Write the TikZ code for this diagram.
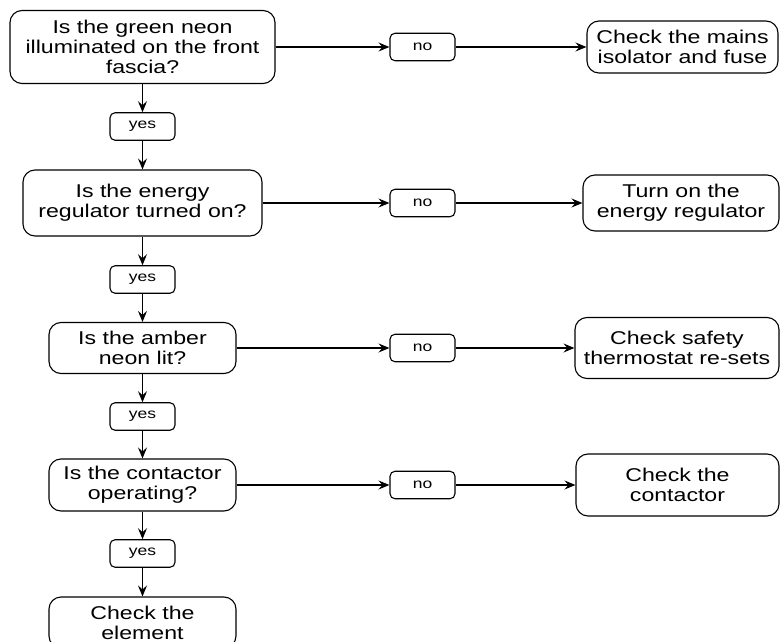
\documentclass[tikz,border=0pt]{standalone}
\usepackage{fontspec}
\setmainfont{Liberation Sans}[FakeStretch=1.25]
\usetikzlibrary{arrows.meta}
\begin{document}
\begin{tikzpicture}[x=1pt,y=-1pt,
  box/.style={draw, rounded corners=12pt, line width=1.1pt, align=center, inner sep=0pt,
    font=\fontsize{18.5}{20}\selectfont},
  lab/.style={draw, rounded corners=5pt, line width=1.1pt, inner sep=0pt,
    minimum width=65pt, minimum height=27.5pt, font=\fontsize{14}{16}\selectfont},
  arr/.style={line width=1.1pt, -{Stealth[length=11pt,width=9pt,inset=4pt]}}]
\useasboundingbox (0,0) rectangle (780,642);
\clip (0,0) rectangle (780,642);
% left column
\node[box, minimum width=265pt, minimum height=73pt] (q1) at (142.5,47) {Is the green neon\\illuminated on the front\\fascia?};
\node[lab] (y1) at (142.5,126.5) {yes};
\node[box, minimum width=239pt, minimum height=66pt] (q2) at (142.5,203) {Is the energy\\regulator turned on?};
\node[lab] (y2) at (142.5,279.5) {yes};
\node[box, minimum width=187pt, minimum height=51pt] (q3) at (142.5,348) {Is the amber\\neon lit?};
\node[lab] (y3) at (142.5,416.5) {yes};
\node[box, minimum width=187pt, minimum height=52pt] (q4) at (142.5,485) {Is the contactor\\operating?};
\node[lab] (y4) at (142.5,553.5) {yes};
\node[box, minimum width=187pt, minimum height=51pt] (q5) at (142.5,622.5) {Check the\\element};
% no labels
\node[lab] (n1) at (422.5,47) {no};
\node[lab] (n2) at (422.5,203) {no};
\node[lab] (n3) at (422.5,348) {no};
\node[lab] (n4) at (422.5,485) {no};
% right column
\node[box, minimum width=191pt, minimum height=52pt] (r1) at (682.5,47) {Check the mains\\isolator and fuse};
\node[box, minimum width=196pt, minimum height=56pt] (r2) at (681,203) {Turn on the\\energy regulator};
\node[box, minimum width=204pt, minimum height=61pt] (r3) at (677,348) {Check safety\\thermostat re-sets};
\node[box, minimum width=203pt, minimum height=62pt] (r4) at (677.5,485) {Check the\\contactor};
% connectors
\draw[arr] (q1) -- (y1);
\draw[arr] (y1) -- (q2);
\draw[arr] (q2) -- (y2);
\draw[arr] (y2) -- (q3);
\draw[arr] (q3) -- (y3);
\draw[arr] (y3) -- (q4);
\draw[arr] (q4) -- (y4);
\draw[arr] (y4) -- (q5);
\draw[arr] (q1) -- (n1);
\draw[arr] (n1) -- (r1);
\draw[arr] (q2) -- (n2);
\draw[arr] (n2) -- (r2);
\draw[arr] (q3) -- (n3);
\draw[arr] (n3) -- (r3);
\draw[arr] (q4) -- (n4);
\draw[arr] (n4) -- (r4);
\end{tikzpicture}
\end{document}
